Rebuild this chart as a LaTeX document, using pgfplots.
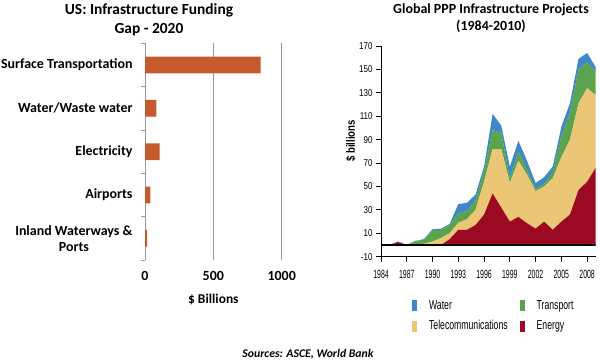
\documentclass[border=0pt]{standalone}
\usepackage{pgfplots}
\pgfplotsset{compat=1.18}
\usepackage{fontspec}
\setmainfont{Carlito}
\newfontfamily\narrowfont[FakeStretch=0.8]{Liberation Sans}
\newfontfamily\narrowxfont[FakeStretch=0.58]{Liberation Sans}
\newfontfamily\legfont[FakeStretch=0.67]{Liberation Sans}
\definecolor{barcol}{RGB}{197,90,44}
\definecolor{cwater}{RGB}{63,135,200}
\definecolor{ctrans}{RGB}{91,163,79}
\definecolor{ctele}{RGB}{234,198,117}
\definecolor{cenergy}{RGB}{155,10,34}
\pgfplotstableread{
year energy tele transport water
1984 0 0 0 0
1985 0 0 0 0
1986 2.5 0 0.5 0
1987 0 0 0 0
1988 0 0.5 3 0
1989 0 1 3.5 0.5
1990 0 3 10 0.5
1991 0 6 7 1
1992 5 5 7 1
1993 13 6 8 8
1994 13 9 7 7
1995 17 13 8 5
1996 26 28 9 4
1997 44 38 16 14
1998 32 50 14 6
1999 20 33 4 10
2000 24 48 8 9
2001 18.6 41.4 4 8
2002 14 32 2 5
2003 20 30 2 6
2004 13 44 5 5
2005 20 55 18 8
2006 26 64 23 8
2007 47 74 29 9
2008 54 80 22 8
2009 66 62 20 4
}\ppp
\begin{document}
\begin{tikzpicture}
\useasboundingbox (0,0) rectangle (600bp,363bp);
% ---------- left chart ----------
\begin{axis}[
  at={(145bp,103bp)}, anchor=south west,
  scale only axis, width=136.7bp, height=216.7bp,
  xmin=0, xmax=1000, ymin=-0.5, ymax=4.5, y dir=reverse,
  axis lines=left, axis line style={-},
  x axis line style={draw=none},
  y axis line style={draw=gray!80, line width=0.8pt},
  xtick={0,500,1000}, xmajorgrids,
  grid style={gray!80, line width=0.8pt},
  x tick style={draw=none},
  /pgf/number format/1000 sep={},
  xticklabel style={font=\bfseries\fontsize{14}{16}\selectfont, yshift=-8bp},
  /pgf/number format/assume math mode=true,
  ytick={0,1,2,3,4},
  yticklabels={Surface Transportation, Water/Waste water, Electricity, Airports, {Inland Waterways \&\\Ports}},
  yticklabel style={align=center, font=\bfseries\fontsize{14}{16}\selectfont, xshift=-9bp},
  major tick length=0pt,
  extra y ticks={-0.5,0.5,1.5,2.5,3.5,4.5},
  extra y tick labels={},
  extra y tick style={major tick length=4bp, tick align=outside, tick style={draw=gray!80, line width=0.8pt}},
  xlabel={\$ Billions},
  xlabel style={font=\bfseries\fontsize{13.5}{15}\selectfont, yshift=-6bp},
]
\addplot[xbar, fill=barcol, draw=none, bar width=16.7bp] coordinates {(846,0) (84,1) (107,2) (39,3) (16,4)};
\end{axis}
\node[align=center, font=\bfseries\fontsize{15.5}{19}\selectfont] at (149bp,343.5bp) {US: Infrastructure Funding\\Gap - 2020};
% ---------- right chart ----------
\begin{axis}[
  at={(381bp,106.3bp)}, anchor=south west,
  scale only axis, width=214.7bp, height=210.7bp,
  xmin=1984, xmax=2009, ymin=-10, ymax=170,
  axis lines=left, axis line style={-, line width=1pt},
  xtick={1984,1987,...,2008}, ytick={-10,10,...,170},
  tick align=outside, major tick length=5bp,
  tick style={line width=0.8pt, black},
  /pgf/number format/assume math mode=true,
  /pgf/number format/1000 sep={},
  xticklabel style={font=\narrowxfont\fontsize{12}{14}\selectfont, yshift=-5bp},
  yticklabel style={font=\narrowfont\fontsize{10}{12}\selectfont},
  ylabel={\$ billions},
  ylabel style={at={(axis description cs:-0.14,0.549)}, anchor=center, rotate=0, font=\narrowfont\bfseries\fontsize{12}{14}\selectfont},
  stack plots=y,
  legend columns=2, reverse legend,
  legend cell align=left,
  legend image code/.code={\fill[#1] (0bp,-5.5bp) rectangle (5bp,5.5bp);},
  legend style={draw=none, fill=none, at={(axis description cs:0.144,-0.196)}, anchor=north west,
    font=\legfont\fontsize{13}{15}\selectfont, column sep=10bp, row sep=6bp, inner sep=0pt},
]
\addplot[fill=cenergy, draw=none] table[x=year, y=energy] {\ppp} \closedcycle;
\addlegendentry{Energy}
\addplot[fill=ctele, draw=none] table[x=year, y=tele] {\ppp} \closedcycle;
\addlegendentry{Telecommunications}
\addplot[fill=ctrans, draw=none] table[x=year, y=transport] {\ppp} \closedcycle;
\addlegendentry{Transport}
\addplot[fill=cwater, draw=none] table[x=year, y=water] {\ppp} \closedcycle;
\addlegendentry{Water}
\end{axis}
\begin{axis}[
  at={(381bp,106.3bp)}, anchor=south west,
  scale only axis, width=214.7bp, height=210.7bp,
  xmin=1984, xmax=2009, ymin=-10, ymax=170,
  hide axis,
]
\addplot[black, line width=1.5pt] coordinates {(1984,0) (2009,0)};
\end{axis}
\node[align=center, font=\bfseries\fontsize{14}{16.5}\selectfont] at (491bp,345bp) {Global PPP Infrastructure Projects\\(1984-2010)};
\node[font=\bfseries\itshape\fontsize{11.8}{13}\selectfont] at (308bp,9bp) {Sources: ASCE, World Bank};
\end{tikzpicture}
\end{document}
